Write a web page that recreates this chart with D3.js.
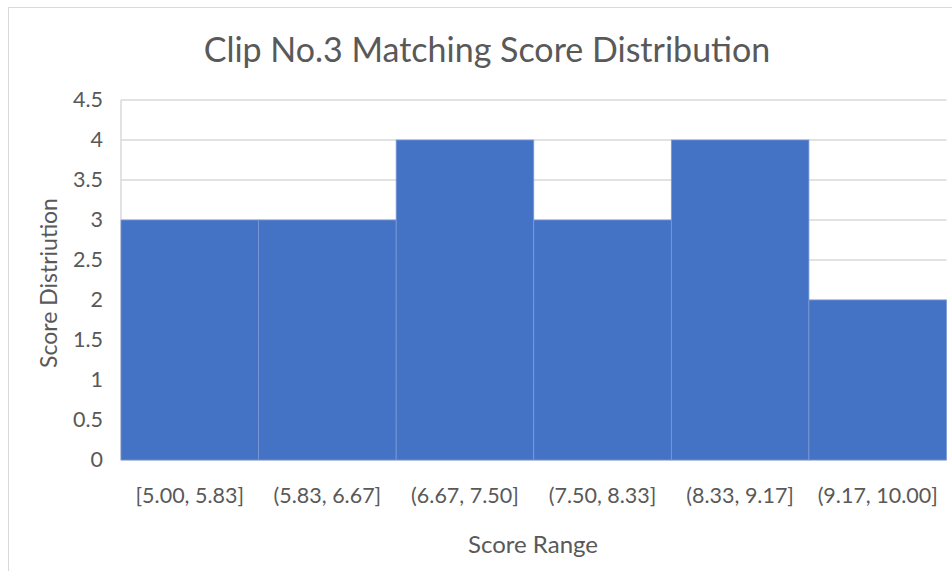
<!DOCTYPE html>
<html>
<head>
<meta charset="utf-8">
<script src="https://cdn.jsdelivr.net/npm/d3@7"></script>
<style>
  body { margin: 0; background: #fff; }
  text { font-family: Lato, "Open Sans", sans-serif; fill: #595959; }
</style>
</head>
<body>
<div id="chart"></div>
<script>
var chart_width = 952
var chart_height = 571

// data
var categories = ['[5.00, 5.83]', '(5.83, 6.67]', '(6.67, 7.50]', '(7.50, 8.33]', '(8.33, 9.17]', '(9.17, 10.00]']
var counts = [3, 3, 4, 3, 4, 2]
var y_ticks = [0, 0.5, 1, 1.5, 2, 2.5, 3, 3.5, 4, 4.5]

var plot = { left: 121, right: 946.5, top: 100, bottom: 460 }

var svg = d3.select('#chart')
  .append('svg')
  .attr('width', chart_width)
  .attr('height', chart_height)

// outer chart border
svg.append('rect')
  .attr('x', 8.5)
  .attr('y', 7.5)
  .attr('width', 960)
  .attr('height', 600)
  .attr('fill', '#fff')
  .attr('stroke', '#d9d9d9')
  .attr('stroke-width', 1)

var x_scale = d3.scaleBand()
  .domain(categories)
  .range([plot.left, plot.right])
  .padding(0)

var y_scale = d3.scaleLinear()
  .domain([0, 4.5])
  .range([plot.bottom, plot.top])

// gridlines
svg.append('g')
  .selectAll('line')
  .data(y_ticks)
  .join('line')
  .attr('x1', plot.left)
  .attr('x2', plot.right)
  .attr('y1', d => y_scale(d))
  .attr('y2', d => y_scale(d))
  .attr('stroke', '#d9d9d9')
  .attr('stroke-width', 1.5)

// left edge of plot area
svg.append('line')
  .attr('x1', plot.left)
  .attr('x2', plot.left)
  .attr('y1', plot.top)
  .attr('y2', plot.bottom)
  .attr('stroke', '#d9d9d9')
  .attr('stroke-width', 1.5)

// bars
svg.append('g')
  .selectAll('rect')
  .data(counts)
  .join('rect')
  .attr('x', (d, i) => x_scale(categories[i]))
  .attr('y', d => y_scale(d))
  .attr('width', x_scale.bandwidth())
  .attr('height', d => y_scale(0) - y_scale(d))
  .attr('fill', '#4472c4')
  .attr('stroke', '#7b9ad6')
  .attr('stroke-width', 0.8)

// y axis labels
var y_axis = d3.axisLeft(y_scale)
  .tickValues(y_ticks)
  .tickSize(0)
  .tickPadding(18)
  .tickFormat(d3.format('~g'))
svg.append('g')
  .attr('transform', 'translate(' + plot.left + ', 0)')
  .call(y_axis)
  .call(g => g.select('.domain').remove())
  .selectAll('text')
  .attr('font-size', 21.5)
  .attr('font-family', 'Lato')
  .attr('fill', '#595959')

// x axis labels
var x_axis = d3.axisBottom(x_scale).tickSize(0).tickPadding(28)
svg.append('g')
  .attr('transform', 'translate(0, ' + plot.bottom + ')')
  .call(x_axis)
  .call(g => g.select('.domain').remove())
  .selectAll('text')
  .attr('font-size', 21.5)
  .attr('font-family', 'Lato')
  .attr('fill', '#595959')

// title
svg.append('text')
  .attr('x', 487)
  .attr('y', 62)
  .attr('text-anchor', 'middle')
  .attr('font-size', 34)
  .text('Clip No.3 Matching Score Distribution')

// axis titles
svg.append('text')
  .attr('x', 533)
  .attr('y', 553)
  .attr('text-anchor', 'middle')
  .attr('font-size', 24)
  .text('Score Range')

svg.append('text')
  .attr('transform', 'translate(57, 283) rotate(-90)')
  .attr('text-anchor', 'middle')
  .attr('font-size', 23)
  .text('Score Distriution')
</script>
</body>
</html>
